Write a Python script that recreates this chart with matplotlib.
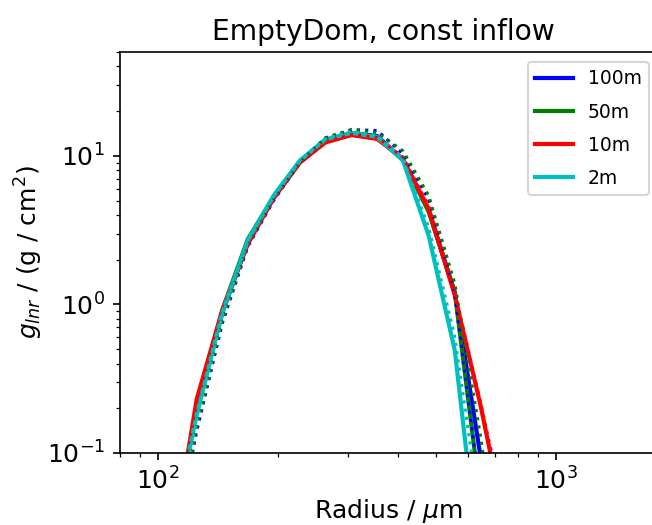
import matplotlib
matplotlib.use('Agg')
import matplotlib.pyplot as plt

# radius bins (micrometres) and g_lnr values
radius = [107, 125, 145, 168, 195, 227, 263, 306, 355, 412, 478, 556, 645, 749]

labels = ['100m', '50m', '10m', '2m']
colors = ['b', 'g', 'r', 'c']

g_solid = {
    '100m': [0.02, 0.2, 0.88, 2.6, 5.2, 9.1, 12.6, 14.2, 13.6, 9.4, 4.3, 1.2, 0.095, 0.01],
    '50m':  [0.02, 0.21, 0.92, 2.75, 5.3, 9.1, 12.5, 13.9, 13.3, 9.4, 4.2, 1.2, 0.05, 0.005],
    '10m':  [0.018, 0.23, 0.92, 2.55, 5.2, 9.0, 12.3, 13.8, 13.0, 9.5, 4.4, 1.15, 0.21, 0.03],
    '2m':   [0.025, 0.18, 0.88, 2.7, 5.4, 9.3, 12.9, 14.3, 13.4, 9.3, 2.9, 0.49, 0.015, 0.001],
}
g_dotted = {
    '100m': [0.016, 0.14, 0.75, 2.45, 5.0, 9.0, 13.2, 15.0, 14.8, 10.3, 5.1, 1.18, 0.05, 0.005],
    '50m':  [0.016, 0.15, 0.78, 2.5, 5.1, 9.0, 13.2, 15.0, 14.3, 10.8, 5.4, 1.38, 0.13, 0.008],
    '10m':  [0.018, 0.22, 0.9, 2.5, 5.1, 9.0, 12.5, 14.0, 13.3, 9.8, 4.6, 1.2, 0.22, 0.035],
    '2m':   [0.022, 0.17, 0.85, 2.65, 5.3, 9.3, 13.0, 14.6, 13.7, 9.6, 3.3, 0.6, 0.038, 0.002],
}

fig = plt.figure(figsize=(652 / 150, 525 / 150), dpi=150)
# axes run a little past the right edge of the picture (reference is cropped)
ax = fig.add_axes([119.5 / 652, 1 - 453 / 525, 538.5 / 652, 401 / 525])

for lab, col in zip(labels, colors):
    ax.plot(radius, g_solid[lab], color=col, lw=2, label=lab)
for lab, col in zip(labels, colors):
    ax.plot(radius, g_dotted[lab], color=col, lw=1.5, ls=':')

ax.set_xscale('log')
ax.set_yscale('log')
ax.set_xlim(80, 1800)
ax.set_ylim(0.1, 50)
ax.spines['right'].set_visible(False)
ax.tick_params(labelsize=12)

ax.set_xlabel(r'Radius / $\mu$m', fontsize=12, labelpad=1)
ax.set_ylabel(r'$g_{lnr}$ / (g / cm$^2$)', fontsize=12, labelpad=1)
ax.set_title('EmptyDom, const inflow', fontsize=13.5, x=0.49)

ax.legend(loc='upper right', bbox_to_anchor=(649 / 652, 1 - 62 / 525),
          bbox_transform=fig.transFigure, borderaxespad=0, fontsize=9,
          labelspacing=0.75)

fig.savefig('out.png', dpi=150)
